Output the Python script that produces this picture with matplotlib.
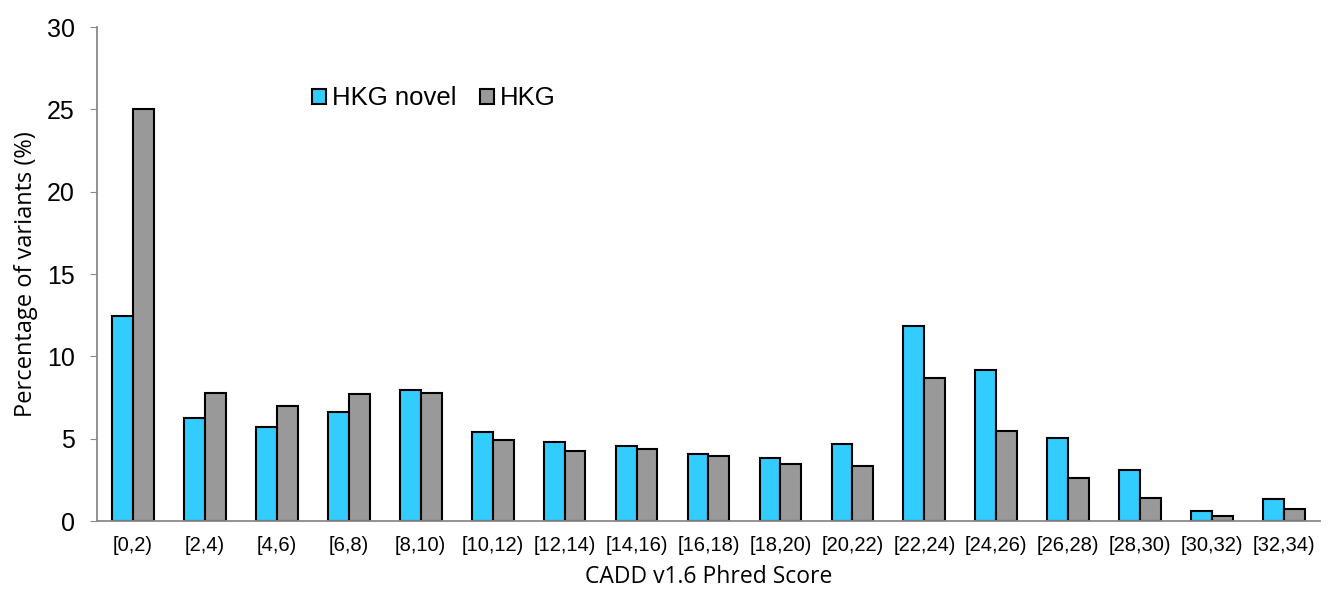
import numpy as np
import matplotlib.pyplot as plt

plt.rcParams['font.family'] = ['Liberation Sans', 'DejaVu Sans']

categories = ["[0,2)", "[2,4)", "[4,6)", "[6,8)", "[8,10)", "[10,12)", "[12,14)", "[14,16)",
              "[16,18)", "[18,20)", "[20,22)", "[22,24)", "[24,26)", "[26,28)", "[28,30)",
              "[30,32)", "[32,34)"]
hkg_novel = [12.45, 6.25, 5.7, 6.6, 7.95, 5.4, 4.77, 4.55, 4.08, 3.85, 4.65, 11.87, 9.18,
             5.06, 3.07, 0.62, 1.33]
hkg = [25.0, 7.8, 7.0, 7.7, 7.75, 4.95, 4.27, 4.38, 3.92, 3.49, 3.35, 8.7, 5.48, 2.64,
       1.39, 0.31, 0.75]

fig = plt.figure(figsize=(13.28, 5.91), dpi=100)
ax = fig.add_axes([0.073, 0.1184, 0.921, 0.8358])

x = np.arange(len(categories))
w = 0.29
ax.bar(x - w / 2, hkg_novel, w, color='#33CCFF', edgecolor='black', linewidth=1.5,
       label='HKG novel')
ax.bar(x + w / 2, hkg, w, color='#999999', edgecolor='black', linewidth=1.5, label='HKG')

ax.set_xlim(-0.5, len(categories) - 0.5)
ax.set_ylim(0, 30)
ax.set_yticks([0, 5, 10, 15, 20, 25, 30])
ax.set_xticks(x)
ax.set_xticklabels(categories, fontsize=14.5)
ax.tick_params(axis='y', labelsize=18, length=5, color='#898989', direction='out', pad=11)
ax.tick_params(axis='x', length=0, pad=11)

for s in ['top', 'right']:
    ax.spines[s].set_visible(False)
for s in ['left', 'bottom']:
    ax.spines[s].set_color('#898989')
    ax.spines[s].set_linewidth(1.3)

ax.set_ylabel('Percentage of variants (%)', fontsize=17, family='Open Sans', labelpad=6)
ax.set_xlabel('CADD v1.6 Phred Score', fontsize=16.5, family='Open Sans', labelpad=7)

ax.legend(loc='upper left', bbox_to_anchor=(0.1758, 0.88), ncol=2, frameon=False,
          fontsize=18.5, handlelength=0.55, handleheight=0.55, handletextpad=0.23,
          columnspacing=0.9, borderpad=0, borderaxespad=0)

fig.savefig('out.png', dpi=100)
